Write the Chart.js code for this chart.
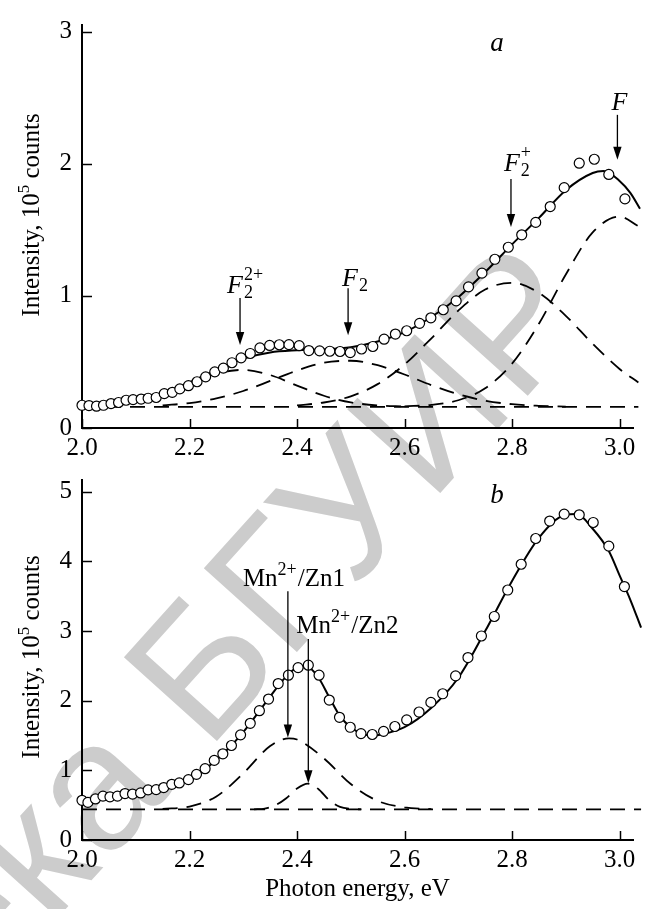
<!DOCTYPE html>
<html><head><meta charset="utf-8">
<script src="https://cdn.jsdelivr.net/npm/chart.js@4.4.1/dist/chart.umd.min.js"></script>
<style>
html,body{margin:0;padding:0;background:#fff;}
#wrap{position:relative;width:650px;height:909px;overflow:hidden;background:#fff;}
canvas{position:absolute;left:0;}
#wm{top:0;z-index:0}
#c1{top:0;z-index:1}
#c2{top:455px;z-index:1}
</style></head><body>
<div id="wrap">
<canvas id="wm" width="650" height="909"></canvas>
<canvas id="c1" width="650" height="455"></canvas>
<canvas id="c2" width="650" height="454"></canvas>
</div>
<script>
// ---------- panel a : measured points ----------
const aPointsE = [2.000,2.013,2.027,2.040,2.054,2.068,2.082,2.095,2.110,2.123,2.138,2.153,2.168,2.182,2.198,2.214,2.230,2.247,2.263,2.279,2.296,2.313,2.331,2.349,2.367,2.385,2.404,2.422,2.442,2.461,2.480,2.499,2.520,2.541,2.562,2.583,2.604,2.628,2.649,2.672,2.696,2.719,2.744,2.768,2.793,2.818,2.844,2.871,2.897,2.925,2.953,2.980,3.010,3.038];
const aPointsI = [0.172,0.170,0.165,0.172,0.185,0.193,0.210,0.215,0.219,0.225,0.231,0.260,0.270,0.296,0.320,0.350,0.387,0.425,0.453,0.494,0.531,0.564,0.606,0.625,0.630,0.631,0.623,0.586,0.584,0.581,0.579,0.571,0.598,0.617,0.672,0.711,0.736,0.792,0.834,0.895,0.962,1.068,1.172,1.277,1.368,1.462,1.556,1.676,1.819,2.004,2.034,1.919,1.734,1.586];
// fit (solid)
const aFitE = [2.00,2.05,2.10,2.15,2.20,2.25,2.30,2.35,2.40,2.45,2.50,2.55,2.60,2.65,2.70,2.75,2.80,2.85,2.90,2.95,2.97,3.00,3.02,3.038];
const aFitI = [0.17,0.18,0.205,0.265,0.345,0.44,0.525,0.572,0.588,0.595,0.612,0.655,0.725,0.84,0.99,1.18,1.39,1.59,1.80,1.93,1.945,1.87,1.78,1.66];
// dashed components
const aBaseE = [2.00,3.035];
const aBaseI = [0.16,0.16];
const aF22pE = [2.05,2.10,2.15,2.20,2.25,2.30,2.35,2.40,2.45,2.50,2.55,2.60];
const aF22pI = [0.174,0.202,0.258,0.338,0.413,0.44,0.401,0.321,0.244,0.194,0.171,0.163];
const aF2E = [2.15,2.20,2.25,2.30,2.35,2.40,2.45,2.50,2.55,2.60,2.65,2.70,2.75,2.80,2.85,2.90];
const aF2I = [0.171,0.189,0.224,0.280,0.356,0.435,0.494,0.509,0.475,0.405,0.324,0.255,0.207,0.180,0.168,0.162];
const aF2pE = [2.40,2.45,2.50,2.55,2.60,2.65,2.70,2.75,2.80,2.85,2.90,2.95,3.00,3.035];
const aF2pI = [0.171,0.193,0.240,0.332,0.481,0.679,0.888,1.048,1.099,1.023,0.849,0.637,0.447,0.345];
const aFE = [2.60,2.65,2.70,2.75,2.80,2.85,2.90,2.95,3.00,3.035];
const aFI = [0.164,0.175,0.210,0.301,0.487,0.789,1.162,1.480,1.600,1.527];

// ---------- panel b ----------
const bPointsE = [2.000,2.011,2.025,2.039,2.052,2.066,2.080,2.094,2.109,2.123,2.138,2.152,2.167,2.181,2.198,2.213,2.229,2.246,2.262,2.278,2.295,2.313,2.330,2.347,2.365,2.384,2.402,2.421,2.441,2.460,2.479,2.499,2.519,2.540,2.561,2.582,2.604,2.627,2.649,2.671,2.695,2.718,2.743,2.767,2.792,2.817,2.844,2.870,2.897,2.925,2.951,2.980,3.009,3.039];
const bPointsI = [0.57,0.54,0.59,0.63,0.62,0.63,0.667,0.66,0.676,0.72,0.724,0.753,0.80,0.819,0.867,0.943,1.024,1.143,1.238,1.357,1.51,1.676,1.857,2.024,2.247,2.367,2.476,2.51,2.367,2.01,1.762,1.619,1.528,1.515,1.56,1.63,1.724,1.838,1.976,2.10,2.357,2.62,2.93,3.21,3.59,3.96,4.33,4.58,4.68,4.67,4.56,4.22,3.64,3.10];
const bFitE = [2.00,2.05,2.10,2.15,2.20,2.25,2.30,2.35,2.38,2.40,2.42,2.44,2.46,2.48,2.50,2.52,2.54,2.56,2.60,2.65,2.70,2.75,2.80,2.85,2.90,2.92,2.95,2.98,3.00,3.02,3.04];
const bFitI = [0.56,0.62,0.68,0.76,0.88,1.15,1.55,2.06,2.35,2.47,2.48,2.33,2.05,1.78,1.62,1.53,1.50,1.52,1.62,1.90,2.33,3.00,3.72,4.34,4.67,4.68,4.47,4.15,3.80,3.45,3.05];
const bBaseE = [2.00,3.04];
const bBaseI = [0.44,0.44];
const bZn1E = [2.15,2.20,2.25,2.30,2.35,2.385,2.40,2.45,2.50,2.55,2.60,2.65];
const bZn1I = [0.446,0.481,0.625,0.958,1.349,1.46,1.443,1.173,0.804,0.561,0.468,0.444];
const bZn2E = [2.32,2.34,2.36,2.38,2.40,2.42,2.44,2.46,2.48,2.50,2.52];
const bZn2I = [0.44,0.452,0.50,0.60,0.74,0.81,0.73,0.57,0.475,0.447,0.44];

// tick / label text
const xTickDecimals = 1;
const yTitleMain = 'Intensity, 10';
const yTitleSup = '5';
const yTitleTail = ' counts';
const xTitle = 'Photon energy, eV';
const watermarkText = 'Библиотека БГУИР';

const SERIF = "'Liberation Serif','Times New Roman',serif";
Chart.defaults.font.family = SERIF;
Chart.defaults.font.size = 25;
Chart.defaults.color = '#000';

function pts(xs, ys){ return xs.map((x,i)=>({x:x, y:ys[i]})); }
function circleSet(xs, ys){
  return {data:pts(xs,ys), showLine:false, pointRadius:5, pointHoverRadius:5,
    pointBackgroundColor:'#fff', pointBorderColor:'#000', pointBorderWidth:1.2, clip:false};
}
function lineSet(xs, ys, dashed){
  return {data:pts(xs,ys), showLine:true, pointRadius:0, borderColor:'#000',
    borderWidth: dashed?1.8:2, borderDash: dashed?[15,9]:[], cubicInterpolationMode:'monotone',
    clip:false, fill:false};
}

function drawArrow(ctx, x, yTail, yTip){
  ctx.save();
  ctx.strokeStyle='#000'; ctx.fillStyle='#000'; ctx.lineWidth=1.3;
  ctx.beginPath(); ctx.moveTo(x, yTail); ctx.lineTo(x, yTip-10); ctx.stroke();
  ctx.beginPath(); ctx.moveTo(x-4.2, yTip-13); ctx.lineTo(x+4.2, yTip-13); ctx.lineTo(x, yTip); ctx.closePath(); ctx.fill();
  ctx.restore();
}
function drawLabel(ctx, x, y, segs){
  const main = '25px '+SERIF, ital = 'italic 26px '+SERIF, small = '18px '+SERIF;
  ctx.save(); ctx.fillStyle='#000'; ctx.textBaseline='alphabetic'; ctx.textAlign='left';
  let cx = x;
  segs.forEach(s=>{
    if (s.i!==undefined){ ctx.font=ital; ctx.fillText(s.i, cx, y); cx+=ctx.measureText(s.i).width+1; }
    else if (s.n!==undefined){ ctx.font=main; ctx.fillText(s.n, cx, y); cx+=ctx.measureText(s.n).width; }
    else {
      ctx.font=small; let w=0;
      if (s.sup){ ctx.fillText(s.sup, cx, y-(s.sub?13:11)); w=Math.max(w, ctx.measureText(s.sup).width); }
      if (s.sub){ ctx.fillText(s.sub, cx, y+5); w=Math.max(w, ctx.measureText(s.sub).width); }
      cx+=w+1;
    }
  });
  ctx.restore();
}
function drawYTitle(ctx, cx, cy){
  ctx.save(); ctx.translate(cx, cy); ctx.rotate(-Math.PI/2);
  const big='25px '+SERIF, small='17px '+SERIF;
  ctx.font=big; const w1=ctx.measureText(yTitleMain).width, w3=ctx.measureText(yTitleTail).width;
  ctx.font=small; const w2=ctx.measureText(yTitleSup).width;
  let x=-(w1+w2+w3)/2;
  ctx.fillStyle='#000'; ctx.textBaseline='alphabetic'; ctx.textAlign='left';
  ctx.font=big; ctx.fillText(yTitleMain, x, 0); x+=w1;
  ctx.font=small; ctx.fillText(yTitleSup, x, -10); x+=w2;
  ctx.font=big; ctx.fillText(yTitleTail, x, 0);
  ctx.restore();
}

function decor(cfg){
  return {
    id:'decor',
    afterDraw(chart){
      const ctx=chart.ctx, xs=chart.scales.x, ys=chart.scales.y, ca=chart.chartArea;
      ctx.save(); ctx.strokeStyle='#000'; ctx.lineWidth=1.5;
      xs.ticks.forEach(t=>{ const p=Math.round(xs.getPixelForValue(t.value))+0.5;
        ctx.beginPath(); ctx.moveTo(p, ca.bottom); ctx.lineTo(p, ca.bottom-9); ctx.stroke(); });
      ys.ticks.forEach(t=>{ const p=Math.round(ys.getPixelForValue(t.value))+0.5;
        ctx.beginPath(); ctx.moveTo(ca.left, p); ctx.lineTo(ca.left+10, p); ctx.stroke(); });
      ctx.restore();
      cfg.marks.forEach(m=>{
        const px=xs.getPixelForValue(m.x), pt=ys.getPixelForValue(m.tail), pp=ys.getPixelForValue(m.tip);
        drawArrow(ctx, px, pt, pp);
        drawLabel(ctx, px+m.dx, pt+m.dy, m.segs);
      });
      ctx.save(); ctx.font='italic 27px '+SERIF; ctx.fillStyle='#000'; ctx.textAlign='center';
      ctx.fillText(cfg.letter.t, xs.getPixelForValue(cfg.letter.x), ys.getPixelForValue(cfg.letter.y));
      ctx.restore();
      drawYTitle(ctx, 39, cfg.titleCY);
    }
  };
}

function makeChart(id, cfg){
  return new Chart(document.getElementById(id), {
    type:'scatter',
    data:{datasets:cfg.datasets},
    options:{
      responsive:false, animation:false, events:[],
      layout:{padding:{left:0, right:17, top:cfg.padTop, bottom:0}},
      plugins:{legend:{display:false}, tooltip:{enabled:false}},
      scales:{
        x:{type:'linear', min:2.0, max:3.025,
          afterFit:s=>{s.height=cfg.xH;},
          grid:{display:false, drawTicks:false},
          border:{display:true, color:'#000', width:2},
          ticks:{stepSize:0.2, includeBounds:false, autoSkip:false, maxRotation:0, padding:5,
            callback:v=>Number(v).toFixed(xTickDecimals)},
          title: cfg.xTitle ? {display:true, text:cfg.xTitle, padding:{top:0,bottom:5}} : {display:false}
        },
        y:{type:'linear', min:0, max:cfg.ymax,
          afterFit:s=>{s.width=82;},
          grid:{display:false, drawTicks:false},
          border:{display:true, color:'#000', width:2},
          ticks:{stepSize:1, includeBounds:false, padding:10, callback:v=>String(v)}
        }
      }
    },
    plugins:[decor(cfg)]
  });
}

// watermark (light grey, behind the plots)
(function(){
  const c=document.getElementById('wm').getContext('2d');
  c.save();
  c.fillStyle='#cccccc';
  c.font="182px 'Liberation Sans', Arial, sans-serif";
  c.translate(207,752); c.rotate(-48*Math.PI/180);
  const pre='Библиотека ';
  c.fillText(watermarkText, -c.measureText(pre).width, 0);
  c.restore();
})();

makeChart('c1', {
  padTop:15, xH:27, ymax:3.05, titleCY:215,
  datasets:[
    circleSet(aPointsE, aPointsI),
    lineSet(aFitE, aFitI, false),
    lineSet(aBaseE, aBaseI, true),
    lineSet(aF22pE, aF22pI, true),
    lineSet(aF2E, aF2I, true),
    lineSet(aF2pE, aF2pI, true),
    lineSet(aFE, aFI, true)
  ],
  marks:[
    {x:2.294, tail:0.983, tip:0.628, dx:-13, dy:-5, segs:[{i:'F'},{sup:'2+', sub:'2'}]},
    {x:2.495, tail:1.057, tip:0.702, dx:-6, dy:-2, segs:[{i:'F'},{sub:'2'}]},
    {x:2.798, tail:1.885, tip:1.522, dx:-7, dy:-8, segs:[{i:'F'},{sup:'+', sub:'2'}]},
    {x:2.996, tail:2.37, tip:2.03, dx:-6, dy:-5, segs:[{i:'F'}]}
  ],
  letter:{t:'a', x:2.772, y:2.85}
});

makeChart('c2', {
  padTop:23, xH:69, ymax:5.17, titleCY:202, xTitle:xTitle,
  datasets:[
    circleSet(bPointsE, bPointsI),
    lineSet(bFitE, bFitI, false),
    lineSet(bBaseE, bBaseI, true),
    lineSet(bZn1E, bZn1I, true),
    lineSet(bZn2E, bZn2I, true)
  ],
  marks:[
    {x:2.383, tail:3.571, tip:1.471, dx:-45, dy:-5, segs:[{n:'Mn'},{sup:'2+'},{n:'/Zn1'}]},
    {x:2.421, tail:2.886, tip:0.814, dx:-12, dy:-6, segs:[{n:'Mn'},{sup:'2+'},{n:'/Zn2'}]}
  ],
  letter:{t:'b', x:2.772, y:4.84}
});
</script>
</body></html>
